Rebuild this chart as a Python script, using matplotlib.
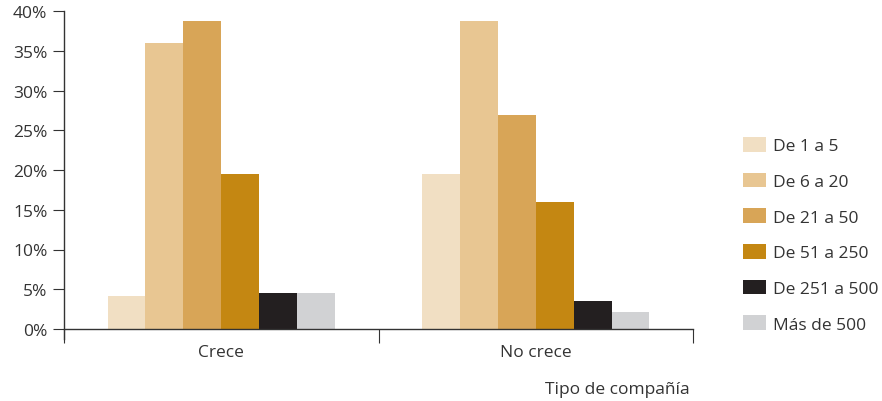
import matplotlib.pyplot as plt
from matplotlib.patches import Patch
from matplotlib.ticker import FuncFormatter

# =====================================
# Data
# =====================================

categories = ["Crece", "No crece"]

series_labels = ["De 1 a 5", "De 6 a 20", "De 21 a 50",
                 "De 51 a 250", "De 251 a 500", "Más de 500"]

crece = [4.2, 36.0, 38.7, 19.5, 4.5, 4.5]
no_crece = [19.5, 38.7, 26.9, 16.0, 3.5, 2.1]

colors = ["#F1DFC3", "#E8C692", "#D8A557", "#C48712", "#231F20", "#D1D2D4"]

yticks = [0, 5, 10, 15, 20, 25, 30, 35, 40]

# =====================================
# Figure
# =====================================

plt.rcParams['font.family'] = ['Open Sans', 'DejaVu Sans']
text_color = "#333333"
fs = 12.5

fig = plt.figure(figsize=(8.82, 4.02), dpi=100)
ax = fig.add_axes([64 / 882, 1 - 330 / 402, (693 - 64) / 882, (330 - 12) / 402])

centers = [0.5, 1.5]
width = 0.1205
values = list(zip(crece, no_crece))

for i, label in enumerate(series_labels):
    offset = (i - 2.5) * width
    ax.bar([c + offset for c in centers], values[i], width=width,
           color=colors[i], label=label, linewidth=0)

ax.set_xlim(0, 2)
ax.set_ylim(0, 40)

ax.set_yticks(yticks)
ax.yaxis.set_major_formatter(FuncFormatter(lambda v, p: f"{int(v)}%"))

ax.set_xticks([0, 1, 2])
ax.set_xticklabels([])
ax.set_xticks(centers, minor=True)
ax.set_xticklabels(categories, minor=True)
ax.tick_params(axis='x', which='minor', length=0, pad=11,
               labelsize=fs, labelcolor=text_color)
ax.tick_params(axis='x', which='major', length=10, color=text_color,
               direction='out')
ax.tick_params(axis='y', length=8, color=text_color, labelsize=fs,
               labelcolor=text_color, pad=4)

for side in ['top', 'right']:
    ax.spines[side].set_visible(False)
for side in ['left', 'bottom']:
    ax.spines[side].set_color(text_color)
    ax.spines[side].set_linewidth(1)

# left spine extends a little below the zero line
ax.spines['left'].set_bounds(-1.2, 40)
ax.spines['left'].set_clip_on(False)

fig.text(690 / 882, 1 - 390 / 402, "Tipo de compañía", ha='right',
         va='center', fontsize=fs, color=text_color)

# =====================================
# Legend
# =====================================

handles = [Patch(facecolor=c, edgecolor='none') for c in colors]
leg = fig.legend(handles, series_labels, loc='upper left',
                 bbox_to_anchor=(736 / 882, 1 - 131 / 402),
                 frameon=False, fontsize=fs, handlelength=1.3,
                 handleheight=0.92, handletextpad=0.45, labelspacing=1.06,
                 borderaxespad=0)
for t in leg.get_texts():
    t.set_color(text_color)

plt.savefig("out.png", dpi=100)
